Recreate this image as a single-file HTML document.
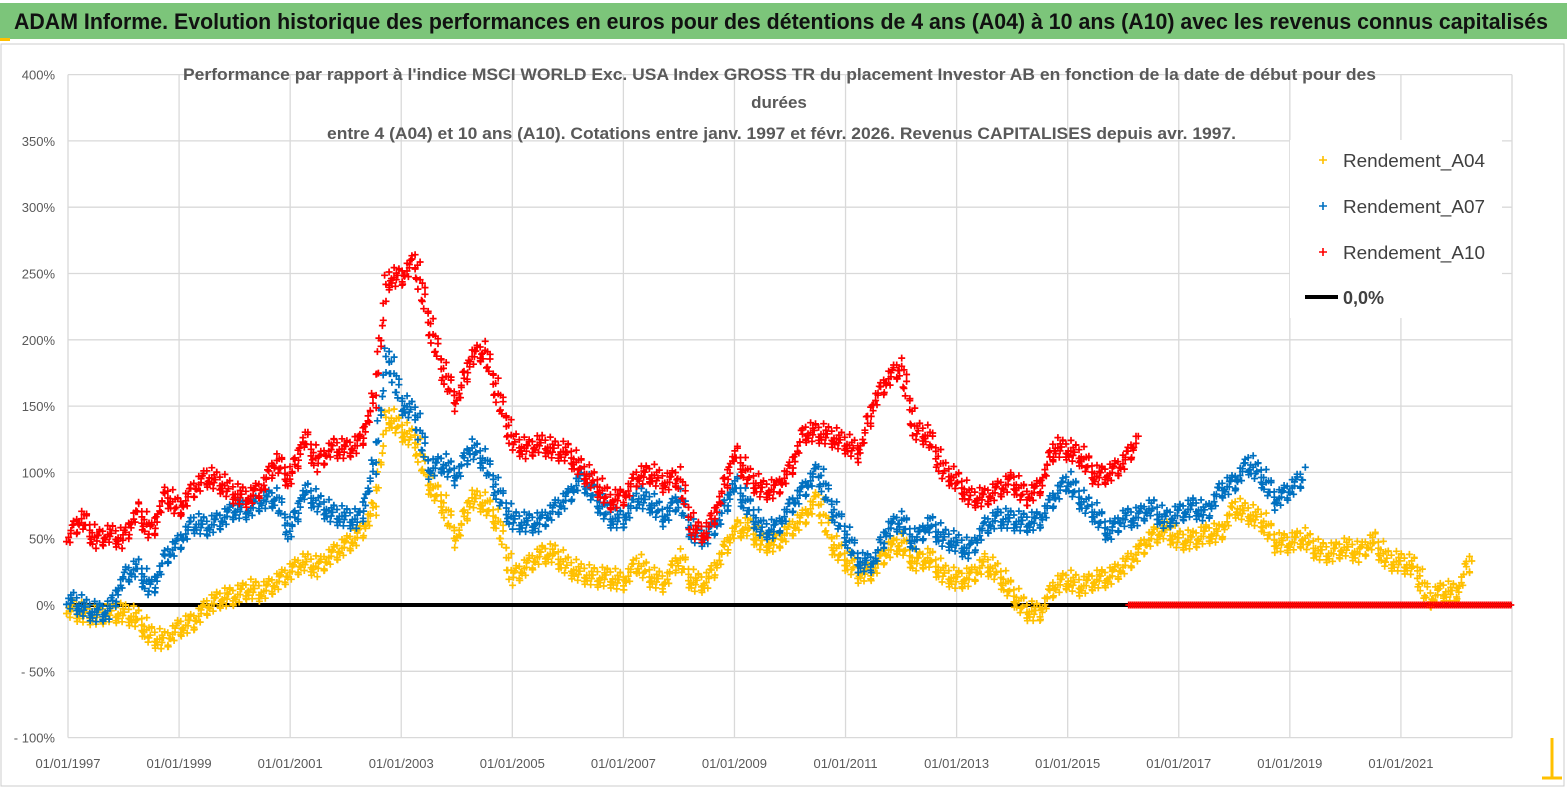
<!DOCTYPE html>
<html><head><meta charset="utf-8"><style>
html,body{margin:0;padding:0;background:#fff;width:1567px;height:790px;overflow:hidden}
svg{display:block;font-family:"Liberation Sans",sans-serif}
</style></head><body>
<svg id="chart" width="1567" height="790" viewBox="0 0 1567 790">
<rect x="0" y="0" width="1567" height="790" fill="#fff"/>
<rect x="0" y="3" width="1567" height="36" fill="#7CC57A"/>
<text x="14" y="29" font-size="22" font-weight="bold" fill="#111" textLength="1534" lengthAdjust="spacingAndGlyphs">ADAM Informe. Evolution historique des performances en euros pour des détentions de 4 ans (A04) à 10 ans (A10) avec les revenus connus capitalisés</text>
<rect x="1" y="44" width="1563" height="742" fill="none" stroke="#ccc" stroke-width="1"/>
<rect x="0" y="38" width="10" height="3" fill="#FFC000"/>
<path d="M1552 738 V778 H1562 M1542 778 H1562" stroke="#FFC000" stroke-width="3" fill="none"/>
<g id="grid"></g>
<g id="yticks"></g>
<g id="xticks"></g>
<line id="zeroline" stroke="#000" stroke-width="4"/>
<g id="marks"></g>
<g font-size="17" font-weight="bold" fill="#595959">
<text x="183" y="80" textLength="1193" lengthAdjust="spacingAndGlyphs">Performance par rapport à l'indice MSCI WORLD Exc. USA Index GROSS TR  du placement Investor AB en fonction de la date de début pour des</text>
<text x="779" y="108" text-anchor="middle">durées</text>
<text x="327" y="139" textLength="909" lengthAdjust="spacingAndGlyphs">entre 4 (A04) et 10 ans (A10). Cotations entre janv. 1997 et févr. 2026. Revenus CAPITALISES depuis avr. 1997.</text>
</g>
<g>
<rect x="1290" y="140" width="212" height="178" fill="#fff"/>
<g>
<path d="M1319 160h8M1323 156v8" stroke="#FFC000" stroke-width="1.6"/>
<text x="1343" y="167" font-size="18" fill="#404040" textLength="142" lengthAdjust="spacingAndGlyphs">Rendement_A04</text></g>
<g>
<path d="M1319 206h8M1323 202v8" stroke="#0070C0" stroke-width="1.6"/>
<text x="1343" y="213" font-size="18" fill="#404040" textLength="142" lengthAdjust="spacingAndGlyphs">Rendement_A07</text></g>
<g>
<path d="M1319 252h8M1323 248v8" stroke="#FF0000" stroke-width="1.6"/>
<text x="1343" y="259" font-size="18" fill="#404040" textLength="142" lengthAdjust="spacingAndGlyphs">Rendement_A10</text></g>
<g>
<line x1="1305" y1="297" x2="1338" y2="297" stroke="#000" stroke-width="4"/>
<text x="1343" y="304" font-size="18" font-weight="bold" fill="#404040">0,0%</text></g>
</g>
</svg>
<script>
const startYear = 1997;
const step = 0.25;
const yTickLabels = ["400%","350%","300%","250%","200%","150%","100%","50%","0%","- 50%","- 100%"];
const yTickValues = [400,350,300,250,200,150,100,50,0,-50,-100];
const xTickLabels = ["01/01/1997","01/01/1999","01/01/2001","01/01/2003","01/01/2005","01/01/2007","01/01/2009","01/01/2011","01/01/2013","01/01/2015","01/01/2017","01/01/2019","01/01/2021"];
const xTickYears = [1997,1999,2001,2003,2005,2007,2009,2011,2013,2015,2017,2019,2021];
const seriesA04 = [-2,-6,-8,-6,-6,-10,-24,-27,-17,-13,-1,5,7,12,10,17,25,33,28,38,45,53,71,144,132,124,92,77,49,81,77,62,21,29,38,39,29,24,21,21,17,32,21,17,36,17,17,36,57,59,47,47,57,66,81,47,34,24,26,41,47,32,36,24,19,21,32,24,9,-4,-6,14,19,14,19,21,29,39,51,57,49,49,54,54,74,69,64,47,47,51,41,39,44,39,49,34,32,29,4,11,9,34];
const seriesA07 = [5,-1,-6,-4,21,29,11,36,47,62,59,64,72,72,79,81,54,87,77,69,66,64,102,192,152,145,102,107,97,119,109,84,64,62,62,72,81,97,81,66,64,81,77,66,81,54,51,66,92,74,57,57,74,87,102,74,54,32,32,57,64,47,62,51,47,41,59,66,64,62,64,81,94,79,69,54,66,66,74,64,69,74,69,87,92,107,97,79,87,97];
const seriesA10 = [51,66,49,54,49,72,54,84,72,87,97,92,84,81,89,109,94,127,107,119,117,122,152,247,247,260,213,177,152,187,192,157,124,117,122,117,115,102,92,79,81,97,99,92,97,57,54,81,115,97,87,87,102,130,130,127,122,115,152,170,180,132,127,102,94,81,81,87,94,81,89,119,117,112,97,99,107,124];
const zeroSeriesStart = 2016.1;
const xEndYear = 2023.0;

const NS="http://www.w3.org/2000/svg";
const X0=68,X1=1512,Y0=605,PXY=1.326;
const xs=y=>X0+(y-1997)*(X1-X0)/26;
const ys=v=>Y0-v*PXY;
const grid=document.getElementById('grid');
function mk(tag,attrs,parent){const e=document.createElementNS(NS,tag);for(const k in attrs)e.setAttribute(k,attrs[k]);parent.appendChild(e);return e;}
for(let i=0;i<=13;i++){const x=xs(1997+2*i);
 const l=mk('line',{x1:x,x2:x,y1:ys(400),y2:ys(-100),stroke:'#d9d9d9','stroke-width':1.3},grid);
 
 }
yTickValues.forEach((v,i)=>{const y=ys(v);
 const l=mk('line',{x1:X0,x2:X1,y1:y,y2:y,stroke:'#d9d9d9','stroke-width':1.3},grid);
 
 
 const t=mk('text',{x:55,y:y+5,'text-anchor':'end','font-size':13,fill:'#595959'},document.getElementById('yticks'));
 t.textContent=yTickLabels[i];
 
 });
xTickYears.forEach((yr,i)=>{
 const t=mk('text',{x:xs(yr),y:768,'text-anchor':'middle','font-size':13,fill:'#595959'},document.getElementById('xticks'));
 t.textContent=xTickLabels[i];
 
 });
const zl=document.getElementById('zeroline');
zl.setAttribute('x1',X0);zl.setAttribute('x2',X1);zl.setAttribute('y1',Y0);zl.setAttribute('y2',Y0);
const jit=[0,5,-4,8,-7,2,-8,4,-2,7,-5,1,9,-9,3];
const marks=document.getElementById('marks');
function drawSeries(vals,color,name){
 const g=mk('g',{stroke:color,'stroke-width':1.7,fill:'none'},marks);
 
 
 let d='';let k=0;
 for(let i=0;i<vals.length;i++){
  const n=(i<vals.length-1)?16:1;
  for(let j=0;j<n;j++){
   const t=j/n;const yr=startYear+(i+t)*step;
   const v=(i<vals.length-1)?vals[i]*(1-t)+vals[i+1]*t:vals[i];
   const x=xs(yr)+(jit[(k+5)%15]*0.3);const y=ys(v)+jit[k%15]*1.1;k++;
   d+=`M${(x-3.5).toFixed(1)} ${y.toFixed(1)}h7M${x.toFixed(1)} ${(y-3.5).toFixed(1)}v7`;
  }
 }
 const p=mk('path',{d:d},g);
 
 
}
drawSeries(seriesA04,'#FFC000','series-a04');
drawSeries(seriesA07,'#0070C0','series-a07');
drawSeries(seriesA10,'#FF0000','series-a10');
(function(){
 const g=mk('g',{stroke:'#FF0000','stroke-width':1.8},marks);
 
 
 let d='';
 for(let x=xs(zeroSeriesStart);x<=xs(xEndYear);x+=2){d+=`M${(x-3.5).toFixed(1)} ${Y0}h7M${x.toFixed(1)} ${Y0-3.5}v7`;}
 mk('path',{d:d},g);
})();
</script>
</body></html>
